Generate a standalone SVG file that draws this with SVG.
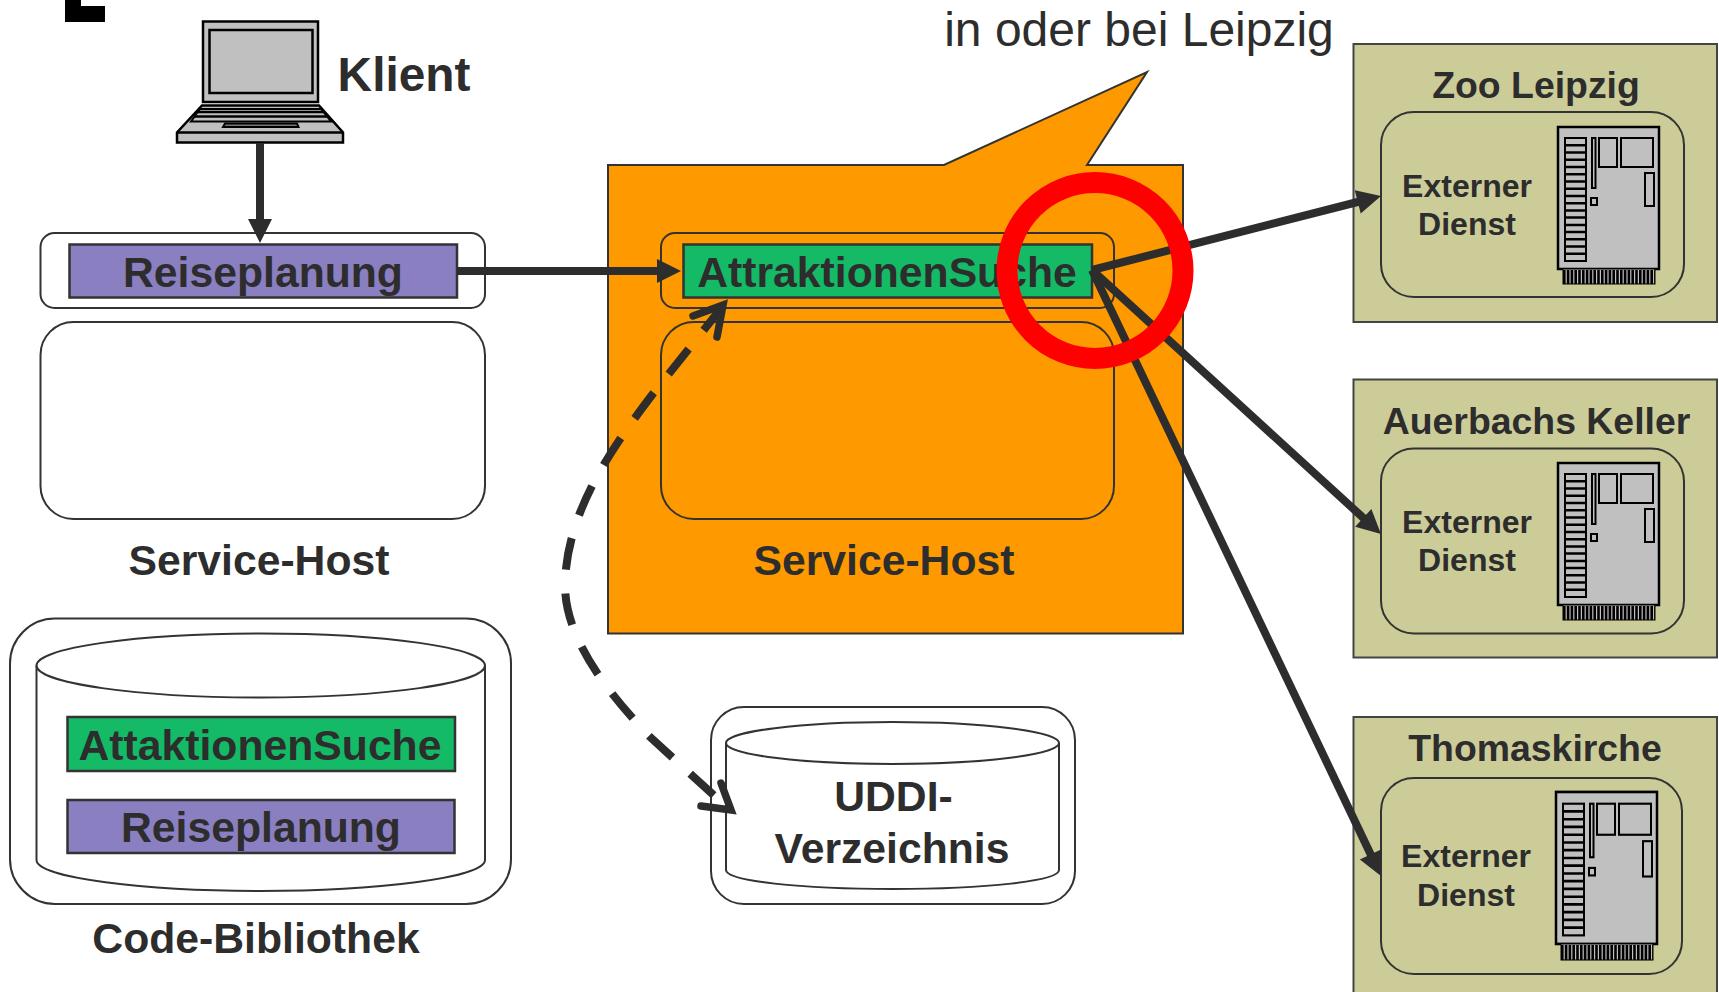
<svg xmlns="http://www.w3.org/2000/svg" xmlns:xlink="http://www.w3.org/1999/xlink" width="1719" height="992" viewBox="0 0 1719 992">
<style>
text{font-family:"Liberation Sans",Arial,sans-serif;font-weight:700;fill:#2d2d2d;text-anchor:middle}
.box{fill:#fff;stroke:#333;stroke-width:2}
.olive{fill:#cccc99;stroke:#444;stroke-width:2}
.inner{fill:#cccc99;stroke:#333;stroke-width:2}
.org{fill:none;stroke:#333;stroke-width:2}
.green{fill:#14ba66;stroke:#333;stroke-width:2.5}
.purple{fill:#8a7fc1;stroke:#333;stroke-width:2.5}
.t32{font-size:32px}
.t37{font-size:37.400px}
.t42{font-size:42.700px}
.hw{fill:#c0c0c0;stroke:#000;stroke-width:2.5}
.hw2{fill:#c0c0c0;stroke:#000;stroke-width:2}
.line{fill:none;stroke:#2d2d2d;stroke-width:8}
.dash{fill:none;stroke:#2d2d2d;stroke-width:8;stroke-dasharray:32 24;stroke-dashoffset:-4}
.open{fill:none;stroke:#2d2d2d;stroke-width:7.500;stroke-linecap:round;stroke-linejoin:miter}
</style>
<defs>
<marker id="head" markerUnits="userSpaceOnUse" markerWidth="26" markerHeight="26" refX="14" refY="12" orient="auto" overflow="visible"><path d="M0 0L24 12L0 24z" fill="#2d2d2d"/></marker>
<g id="server">
<rect class="hw" x="1558" y="127" width="101" height="142"/>
<rect x="1563" y="269" width="92" height="15" fill="#c0c0c0" stroke="#000" stroke-width="1"/>
<path d="M1563 277H1655" fill="none" stroke="#000" stroke-width="14" stroke-dasharray="2.6 1.2"/>
<rect class="hw2" x="1565" y="138" width="21" height="123"/>
<path d="M1565 145.200H1586M1565 152.500H1586M1565 159.700H1586M1565 167H1586M1565 174.200H1586M1565 181.400H1586M1565 188.700H1586M1565 195.900H1586M1565 203.200H1586M1565 210.400H1586M1565 217.600H1586M1565 224.900H1586M1565 232.100H1586M1565 239.300H1586M1565 246.600H1586M1565 253.800H1586" stroke="#000" stroke-width="2.500" fill="none"/>
<rect class="hw2" x="1592" y="138" width="3.500" height="50"/>
<rect class="hw2" x="1599" y="138" width="18" height="29"/>
<rect class="hw2" x="1621" y="138" width="32" height="29"/>
<rect class="hw2" x="1645" y="173" width="9" height="33"/>
<rect class="hw2" x="1591" y="198" width="6" height="7"/>
</g>
</defs>
<rect width="1719" height="992" fill="#fff"/>
<path id="corner" d="M65 0H81V6H105V22H65z" fill="#000"/>

<g id="klient">
<rect class="hw" x="203" y="21.500" width="115" height="80.500"/>
<rect class="hw" x="209.500" y="30" width="103" height="63"/>
<path class="hw" d="M202 105.500H319L343 132.500V142.500H177V132.500z"/>
<path d="M177 132.500H343" stroke="#000" stroke-width="2.500"/>
<path d="M200 109H321L331 121.500H191z" fill="#c0c0c0" stroke="#000" stroke-width="2"/>
<path d="M198 112H324M194 116.500H328" stroke="#000" stroke-width="2.500" fill="none"/>
<path d="M225 123.500H297L298.500 127H223z" fill="#777" stroke="#000" stroke-width="2"/>
<text x="404" y="91" style="font-size:47.800px">Klient</text>
</g>

<g id="host-left">
<rect class="box" x="40.500" y="233" width="444.500" height="75" rx="14"/>
<rect class="box" x="40.500" y="322" width="444.500" height="197" rx="33"/>
<rect class="purple" x="69.500" y="244.500" width="387.500" height="53"/>
<text class="t42" x="263" y="286.500">Reiseplanung</text>
<text class="t42" x="259" y="575">Service-Host</text>
</g>

<g id="host-right">
<path d="M608 165H944L1147 72L1087 165H1183V633.500H608z" fill="#ff9900" stroke="#333" stroke-width="2"/>
<rect class="org" x="661" y="233" width="453" height="75" rx="14"/>
<rect class="org" x="661" y="322" width="453" height="197" rx="33"/>
<rect class="green" x="683.500" y="244.500" width="408.500" height="53"/>
<text class="t42" x="887" y="287">AttraktionenSuche</text>
<text class="t42" x="884" y="575">Service-Host</text>
</g>

<text id="callout-text" x="1139" y="46" style="font-size:48px;font-weight:400">in oder bei Leipzig</text>

<g id="library">
<rect class="box" x="10" y="618.500" width="501" height="285.500" rx="45"/>
<path class="box" d="M36.500 665.500V860C36.500 878 146 891 260.500 891S485 878 485 860V665.500"/>
<ellipse class="box" cx="260.750" cy="665.500" rx="224.250" ry="32"/>
<rect class="green" x="67.500" y="717" width="387.500" height="54"/>
<rect class="purple" x="67.500" y="800" width="387" height="53"/>
<text class="t42" x="260" y="760">AttaktionenSuche</text>
<text class="t42" x="261" y="842">Reiseplanung</text>
<text class="t42" x="256" y="953">Code-Bibliothek</text>
</g>

<g id="uddi">
<rect class="box" x="711" y="707" width="364" height="197" rx="33"/>
<path class="box" d="M726 743V870C726 881 800 889 893 889S1059 881 1059 870V743"/>
<ellipse class="box" cx="892.500" cy="743" rx="166.500" ry="21"/>
<text class="t42" x="893.500" y="811">UDDI-</text>
<text class="t42" x="892" y="863">Verzeichnis</text>
</g>

<g id="zoo">
<rect class="olive" x="1353.500" y="44" width="363.500" height="278"/>
<rect class="inner" x="1381" y="112" width="303" height="185" rx="33"/>
<text class="t37" x="1536" y="98">Zoo Leipzig</text>
<text class="t32" x="1467" y="197">Externer</text>
<text class="t32" x="1467" y="235">Dienst</text>
<use xlink:href="#server" href="#server"/>
</g>

<g id="auerbach">
<rect class="olive" x="1353.500" y="379.500" width="363.500" height="278"/>
<rect class="inner" x="1381" y="448.500" width="303" height="185" rx="33"/>
<text class="t37" x="1536.500" y="434">Auerbachs Keller</text>
<text class="t32" x="1467" y="533">Externer</text>
<text class="t32" x="1467" y="571">Dienst</text>
<use xlink:href="#server" href="#server" transform="translate(0 336)"/>
</g>

<g id="thomas">
<rect class="olive" x="1353.500" y="717" width="363.500" height="290"/>
<rect class="inner" x="1381" y="778" width="301" height="196" rx="33"/>
<text class="t37" x="1535" y="761">Thomaskirche</text>
<text class="t32" x="1466" y="867">Externer</text>
<text class="t32" x="1466" y="906">Dienst</text>
<use xlink:href="#server" href="#server" transform="translate(-2 656) scale(1 1.0704)"/>
</g>

<g id="connectors">
<path class="line" d="M260 143V233" marker-end="url(#head)"/>
<path class="line" d="M457 271H671" marker-end="url(#head)"/>
<path class="line" d="M1092 270L1371.300 198.500" marker-end="url(#head)"/>
<path class="line" d="M1092 270L1373.600 527.300" marker-end="url(#head)"/>
<path class="line" d="M1092 270L1376.700 867" marker-end="url(#head)"/>
<path class="dash" d="M726 302L652 395C615 444 566 510 565 585C565 640 610 695 650 737L731 811"/>
<path class="open" d="M693 316L723 305L717 337"/>
<path class="open" d="M701 806L731 810L721 783"/>
</g>

<ellipse id="ring" cx="1095" cy="270.500" rx="88" ry="88" fill="none" stroke="#ff0000" stroke-width="21"/>
</svg>
